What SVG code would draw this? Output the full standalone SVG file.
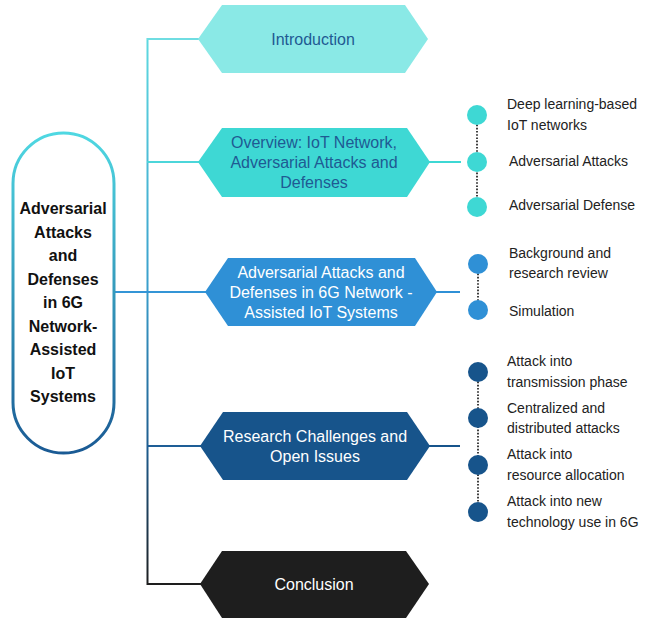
<svg xmlns="http://www.w3.org/2000/svg" width="662" height="622" viewBox="0 0 662 622">
<defs>
  <linearGradient id="pillGrad" x1="0" y1="0" x2="0" y2="1">
    <stop offset="0" stop-color="#4FD8E2"/>
    <stop offset="1" stop-color="#1A5A94"/>
  </linearGradient>
  <linearGradient id="trunkGrad" gradientUnits="userSpaceOnUse" x1="0" y1="39" x2="0" y2="585">
    <stop offset="0" stop-color="#5ED9E0"/>
    <stop offset="0.45" stop-color="#3A9FCC"/>
    <stop offset="0.75" stop-color="#1E5C8E"/>
    <stop offset="1" stop-color="#1E1E1E"/>
  </linearGradient>
</defs>
<style>
  .hex-t { font-family: "Liberation Sans", Arial, sans-serif; font-size: 16px; text-anchor: middle; }
  .side { font-family: "Liberation Sans", Arial, sans-serif; font-size: 14px; fill: #222; }
  .main { font-family: "Liberation Sans", Arial, sans-serif; font-size: 16px; font-weight: bold; fill: #111; text-anchor: middle; }
  .dot { stroke: #111; stroke-width: 1.6; stroke-dasharray: 1.6 1.6; fill: none; }
  .c1 { fill: #3ED8D4; }
  .c2 { fill: #2F90D6; }
  .c3 { fill: #17548B; }
</style>

<g id="connectors" fill="none" stroke-width="2">
  <line x1="147.5" y1="38" x2="147.5" y2="585" stroke="url(#trunkGrad)"/>
  <line x1="147" y1="39" x2="199" y2="39" stroke="#6FDDE2"/>
  <line x1="147" y1="162" x2="199" y2="162" stroke="#4CD6DA"/>
  <line x1="115" y1="292" x2="206" y2="292" stroke="#3495D6"/>
  <line x1="147" y1="446" x2="201" y2="446" stroke="#1E5E96"/>
  <line x1="147" y1="584" x2="201" y2="584" stroke="#1E1E1E"/>
  <line x1="429" y1="162" x2="461" y2="162" stroke="#3ED8D4"/>
  <line x1="436" y1="292" x2="460" y2="292" stroke="#2F90D6"/>
  <line x1="429" y1="446" x2="460" y2="446" stroke="#17548B"/>
  <line class="dot" x1="477" y1="115" x2="477" y2="207"/>
  <line class="dot" x1="478" y1="264" x2="478" y2="310"/>
  <line class="dot" x1="478" y1="372" x2="478" y2="512"/>
</g>

<g id="main">
  <rect x="13" y="133" width="101" height="320" rx="50.5" ry="50.5" fill="#fff" stroke="url(#pillGrad)" stroke-width="3"/>
  <text class="main" x="63" y="214">Adversarial</text>
  <text class="main" x="63" y="237.5">Attacks</text>
  <text class="main" x="63" y="261">and</text>
  <text class="main" x="63" y="284.5">Defenses</text>
  <text class="main" x="63" y="308">in 6G</text>
  <text class="main" x="63" y="331.5">Network-</text>
  <text class="main" x="63" y="355">Assisted</text>
  <text class="main" x="63" y="378.5">IoT</text>
  <text class="main" x="63" y="402">Systems</text>
</g>

<g id="introduction">
  <polygon points="198,39 222,5 405,5 428,39 405,73 222,73" fill="#8AE9E6"/>
  <text class="hex-t" x="313" y="45" fill="#1F5A93">Introduction</text>
</g>

<g id="overview">
  <polygon points="198,162 222,128 407,128 430,162 407,197 222,197" fill="#3ED8D4"/>
  <text class="hex-t" x="314" y="148" fill="#1F5A93">Overview: IoT Network,</text>
  <text class="hex-t" x="314" y="168" fill="#1F5A93">Adversarial Attacks and</text>
  <text class="hex-t" x="314" y="188" fill="#1F5A93">Defenses</text>
</g>

<g id="attacks6g">
  <polygon points="205,292 228,258 415,258 437,292 415,326 228,326" fill="#2F90D6"/>
  <text class="hex-t" x="321" y="278" fill="#fff">Adversarial Attacks and</text>
  <text class="hex-t" x="321" y="298" fill="#fff">Defenses in 6G Network -</text>
  <text class="hex-t" x="321" y="318" fill="#fff">Assisted IoT Systems</text>
</g>

<g id="challenges">
  <polygon points="200,446 223,412 407,412 430,446 407,480 223,480" fill="#17548B"/>
  <text class="hex-t" x="315" y="442" fill="#fff">Research Challenges and</text>
  <text class="hex-t" x="315" y="462" fill="#fff">Open Issues</text>
</g>

<g id="conclusion">
  <polygon points="200,584 222,551 406,551 429,584 406,618 222,618" fill="#1E1E1E"/>
  <text class="hex-t" x="314" y="590" fill="#fff">Conclusion</text>
</g>

<g id="overview-items">
  <circle class="c1" cx="477" cy="115" r="10"/>
  <circle class="c1" cx="477" cy="162" r="10"/>
  <circle class="c1" cx="477" cy="207" r="10"/>
  <text class="side" x="507" y="109">Deep learning-based</text>
  <text class="side" x="507" y="130">IoT networks</text>
  <text class="side" x="509" y="166">Adversarial Attacks</text>
  <text class="side" x="509" y="210">Adversarial Defense</text>
</g>

<g id="attacks6g-items">
  <circle class="c2" cx="478" cy="264" r="10"/>
  <circle class="c2" cx="478" cy="310" r="10"/>
  <text class="side" x="509" y="258">Background and</text>
  <text class="side" x="509" y="278">research review</text>
  <text class="side" x="509" y="316">Simulation</text>
</g>

<g id="challenges-items">
  <circle class="c3" cx="478" cy="372" r="10"/>
  <circle class="c3" cx="478" cy="418" r="10"/>
  <circle class="c3" cx="478" cy="465" r="10"/>
  <circle class="c3" cx="478" cy="512" r="10"/>
  <text class="side" x="507" y="366">Attack into</text>
  <text class="side" x="507" y="387">transmission phase</text>
  <text class="side" x="507" y="413">Centralized and</text>
  <text class="side" x="507" y="433">distributed attacks</text>
  <text class="side" x="507" y="459">Attack into</text>
  <text class="side" x="507" y="480">resource allocation</text>
  <text class="side" x="507" y="506">Attack into new</text>
  <text class="side" x="507" y="527">technology use in 6G</text>
</g>
</svg>
